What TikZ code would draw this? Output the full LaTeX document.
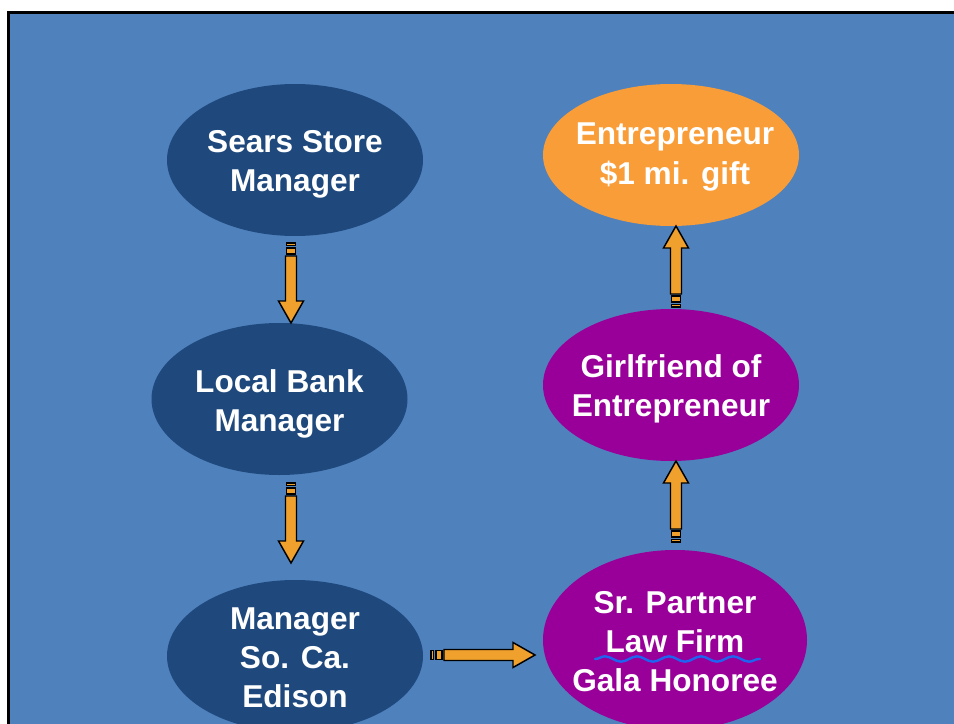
\documentclass[tikz,border=0pt]{standalone}
\usepackage{fontspec}
\setmainfont{Liberation Sans}
\usetikzlibrary{shapes.geometric,calc,decorations.pathmorphing}

\definecolor{slidebg}{HTML}{4F81BD}
\definecolor{navy}{HTML}{1F497D}
\definecolor{peach}{HTML}{F99D38}
\definecolor{plum}{HTML}{990099}
\definecolor{arrowfill}{HTML}{F0A02C}
\definecolor{squiggle}{HTML}{1E64F0}

\tikzset{
  bubble/.style={ellipse, inner sep=0pt, outer sep=0pt},
  navybubble/.style={bubble, fill=navy},
  peachbubble/.style={bubble, fill=peach},
  plumbubble/.style={bubble, fill=plum},
  bubbletext/.style={text=white, align=center, inner sep=0pt,
    font=\bfseries\fontsize{23.7}{29.3}\selectfont},
  blockpart/.style={fill=arrowfill, draw=black, line width=1.1pt, line join=miter},
}

% block arrow: tail at #1, direction angle #2 (degrees, canvas), length #3 (px)
\newcommand{\blockarrow}[3]{%
  \begin{scope}[shift={#1}, rotate=#2]
    \path[blockpart] (0,-4.5) rectangle (2.5,4.5);
    \path[blockpart] (5,-4.5) rectangle (11,4.5);
    \path[blockpart] (13,-5.5) -- ({#3-22},-5.5) -- ({#3-22},-12.5) -- (#3,0)
      -- ({#3-22},12.5) -- ({#3-22},5.5) -- (13,5.5) -- cycle;
  \end{scope}}

\begin{document}
\begin{tikzpicture}[x=0.75pt, y=-0.75pt]
  \useasboundingbox (0,0) rectangle (954,724);
  \begin{scope}
    \clip (0,0) rectangle (954,724);
    \path[fill=slidebg, draw=black, line width=2.4pt] (8.5,12.5) rectangle (970,740);

    % left column
    \node[navybubble, minimum width=192pt, minimum height=114pt] (sears) at (295,160) {};
    \node[bubbletext] (searsT) at ($(sears.center)+(0,4)$) {Sears Store\\Manager};
    \node[navybubble, minimum width=192pt, minimum height=114pt] (bank) at (279.5,399) {};
    \node[bubbletext] (bankT) at ($(bank.center)+(0,5)$) {Local Bank\\Manager};
    \node[navybubble, minimum width=192pt, minimum height=114pt] (edison) at (295,656) {};
    \node[bubbletext] (edisonT) at ($(edison.center)+(0,2)$) {Manager\\So. Ca.\\Edison};

    % right column
    \node[peachbubble, minimum width=192pt, minimum height=106.5pt] (entre) at (671,155) {};
    \node[bubbletext] (entreT) at ($(entre.center)+(4,2)$) {Entrepreneur\\\$1 mi. gift};
    \node[plumbubble, minimum width=192pt, minimum height=114pt] (girl) at (671,385) {};
    \node[bubbletext] (girlT) at ($(girl.center)+(0,4)$) {Girlfriend of\\Entrepreneur};
    \node[plumbubble, minimum width=198pt, minimum height=135pt] (partner) at (675,640) {};
    \node[bubbletext] (partnerT) at ($(partner.center)+(0,1.5)$) {Sr. Partner\\Law Firm\\Gala Honoree};

    % squiggly underline beneath "Law Firm"
    \draw[squiggle, line width=1.8pt, line cap=round,
      decorate, decoration={snake, amplitude=2pt, segment length=24pt}]
      ($(partner.center)+(-80,19)$) -- ($(partner.center)+(85,19)$);

    % block arrows between the bubbles
    \blockarrow{($(sears.south)+(-4,7)$)}{-90}{80}
    \blockarrow{($(bank.south)+(11.5,8)$)}{-90}{80}
    \blockarrow{($(edison.east)+(8,-1)$)}{0}{104}
    \blockarrow{($(partner.north)+(1,-8)$)}{90}{81}
    \blockarrow{($(girl.north)+(5,-2)$)}{90}{81}
  \end{scope}
\end{tikzpicture}
\end{document}
